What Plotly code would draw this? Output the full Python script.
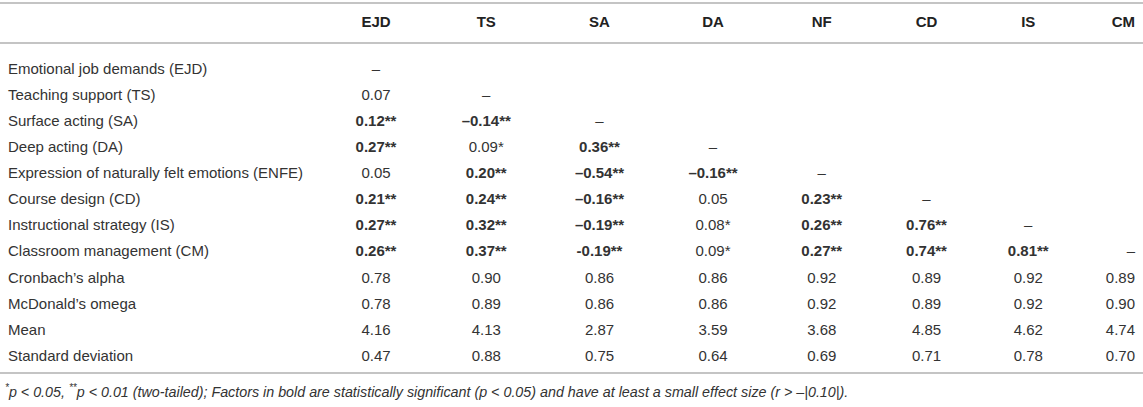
import plotly.graph_objects as go

# Row labels and column headers
row_labels = [
    "Emotional job demands (EJD)",
    "Teaching support (TS)",
    "Surface acting (SA)",
    "Deep acting (DA)",
    "Expression of naturally felt emotions (ENFE)",
    "Course design (CD)",
    "Instructional strategy (IS)",
    "Classroom management (CM)",
    "Cronbach’s alpha",
    "McDonald’s omega",
    "Mean",
    "Standard deviation",
]
col_labels = ["EJD", "TS", "SA", "DA", "NF", "CD", "IS", "CM"]

# Values per column (blank cells = "")
ejd = ["–", "0.07", "0.12**", "0.27**", "0.05", "0.21**", "0.27**", "0.26**", "0.78", "0.78", "4.16", "0.47"]
ts = ["", "–", "–0.14**", "0.09*", "0.20**", "0.24**", "0.32**", "0.37**", "0.90", "0.89", "4.13", "0.88"]
sa = ["", "", "–", "0.36**", "–0.54**", "–0.16**", "–0.19**", "-0.19**", "0.86", "0.86", "2.87", "0.75"]
da = ["", "", "", "–", "–0.16**", "0.05", "0.08*", "0.09*", "0.86", "0.86", "3.59", "0.64"]
nf = ["", "", "", "", "–", "0.23**", "0.26**", "0.27**", "0.92", "0.92", "3.68", "0.69"]
cd = ["", "", "", "", "", "–", "0.76**", "0.74**", "0.89", "0.89", "4.85", "0.71"]
is_ = ["", "", "", "", "", "", "–", "0.81**", "0.92", "0.92", "4.62", "0.78"]
cm = ["", "", "", "", "", "", "", "–", "0.89", "0.90", "4.74", "0.70"]

footnote = ("*p < 0.05, **p < 0.01 (two-tailed); Factors in bold are statistically "
            "significant (p < 0.05) and have at least a small effect size (r > –|0.10|).")

columns = [ejd, ts, sa, da, nf, cd, is_, cm]
# p < 0.01 entries are bold -> drawn by a second, overlaid table
plain_cols = [row_labels] + [[v if not v.endswith("**") else "" for v in c] for c in columns]
bold_cols = [[""] * len(row_labels)] + [[v if v.endswith("**") else "" for v in c] for c in columns]

TXT = "#333333"
LINE = "#c4c4c4"
FONT = "Liberation Sans, Arial, sans-serif"
W, H = 1143, 407

col_w = [321.5, 109, 111.5, 115, 112, 105.5, 104, 99.5, 65]
aligns = ["left"] + ["center"] * 7 + ["right"]
domain = dict(x=[0, 1], y=[0, 1 - 8 / H])
clear = "rgba(0,0,0,0)"


def make_table(values, header_vals, weight):
    return go.Table(
        domain=domain,
        columnwidth=col_w,
        header=dict(
            values=header_vals,
            align=aligns,
            height=46.5,
            fill_color=clear,
            line=dict(width=0, color=clear),
            font=dict(family=FONT, size=15, color="#222222", weight="bold"),
        ),
        cells=dict(
            values=values,
            align=aligns,
            height=26.1,
            fill_color=clear,
            line=dict(width=0, color=clear),
            font=dict(family=FONT, size=15, color=TXT, weight=weight),
        ),
    )


fig = go.Figure()
fig.add_trace(make_table(plain_cols, [""] + col_labels, "normal"))
fig.add_trace(make_table(bold_cols, [""] * (len(col_labels) + 1), "bold"))

# horizontal rules
for yy in [3, 43, 373]:
    fig.add_shape(type="line", xref="paper", yref="paper",
                  x0=0, x1=1, y0=1 - yy / H, y1=1 - yy / H,
                  line=dict(color=LINE, width=2))

note = footnote.replace("<", "&lt;").replace(">", "&gt;")
note = note.replace("**p", "<sup>**</sup>p").replace("*p", "<sup>*</sup>p", 1)
fig.add_annotation(
    xref="paper", yref="paper", x=0.003, y=1 - 391 / H,
    xanchor="left", yanchor="middle", showarrow=False,
    text="<i>" + note + "</i>",
    font=dict(family=FONT, size=14.3, color=TXT),
)

fig.update_layout(
    width=W, height=H,
    margin=dict(l=0, r=0, t=0, b=0),
    paper_bgcolor="white", plot_bgcolor="white",
)

fig.write_html(
    "out.html",
    config={"displayModeBar": False},
    post_script="document.body.style.margin='0px';document.body.style.overflow='hidden';",
)
